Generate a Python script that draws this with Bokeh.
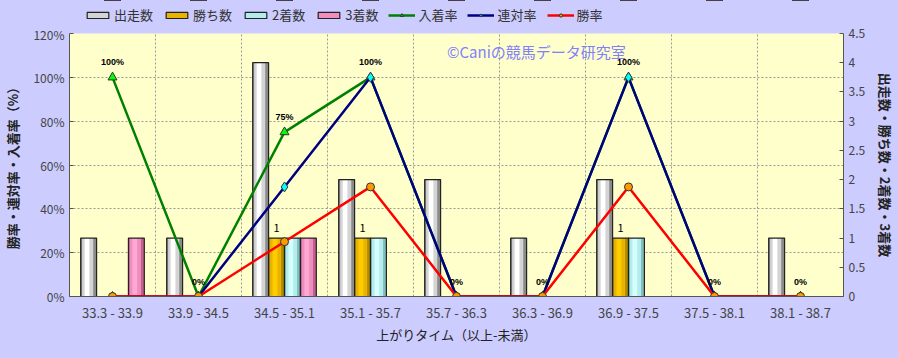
from bokeh.plotting import figure
from bokeh.layouts import column
from bokeh.models import (Range1d, LinearAxis, FixedTicker, Grid, Legend, LegendItem,
                          Label, ColumnDataSource)
from bokeh.core.properties import value
from bokeh.transform import dodge
from bokeh.embed import file_html
from bokeh.resources import INLINE

categories = ["33.3 - 33.9", "33.9 - 34.5", "34.5 - 35.1", "35.1 - 35.7", "35.7 - 36.3",
              "36.3 - 36.9", "36.9 - 37.5", "37.5 - 38.1", "38.1 - 38.7"]
runs = [1, 1, 4, 2, 2, 1, 2, 0, 1]
wins = [0, 0, 1, 1, 0, 0, 1, 0, 0]
seconds = [0, 0, 1, 1, 0, 0, 1, 0, 0]
thirds = [1, 0, 1, 0, 0, 0, 0, 0, 0]
place_rate = [100, 0, 75, 100, 0, 0, 100, 0, 0]
quinella_rate = [0, 0, 50, 100, 0, 0, 100, 0, 0]
win_rate = [0, 0, 25, 50, 0, 0, 50, 0, 0]

left_ticks = [0, 20, 40, 60, 80, 100, 120]
left_tick_labels = ["0%", "20%", "40%", "60%", "80%", "100%", "120%"]
right_ticks = [0, 0.5, 1, 1.5, 2, 2.5, 3, 3.5, 4, 4.5]
right_tick_labels = ["0", "0.5", "1", "1.5", "2", "2.5", "3", "3.5", "4", "4.5"]

FONT = "Noto Sans CJK JP"
BG = "#CCCCFF"
idx = list(range(len(categories)))
src = ColumnDataSource(dict(
    x=idx, runs=runs, wins=wins, seconds=seconds, thirds=thirds,
    place=place_rate, quin=quinella_rate, win=win_rate,
    place_lbl=[f"{v}%" for v in place_rate],
    win_lbl=[str(w) if w > 0 else "" for w in wins],
))

LEG_H = 25
p = figure(width=898, height=358 - LEG_H, output_backend="svg", toolbar_location=None,
           x_range=Range1d(-0.5, len(categories) - 0.5), y_range=Range1d(0, 120),
           min_border_left=65, min_border_right=54, min_border_top=8, min_border_bottom=62)
p.background_fill_color = "#FFFFCC"
p.border_fill_color = BG
p.outline_line_color = None
p.extra_y_ranges = {"cnt": Range1d(0, 4.5)}
p.xgrid.visible = False
p.ygrid.visible = False

# axes
p.xaxis.ticker = FixedTicker(ticks=idx)
p.xaxis.major_label_overrides = {float(i): c for i, c in zip(idx, categories)}
p.xaxis.axis_label = "上がりタイム（以上-未満）"
p.xaxis.major_tick_out = 0
p.xaxis.major_tick_in = 0
p.xaxis.minor_tick_line_color = None

p.yaxis.ticker = FixedTicker(ticks=left_ticks)
p.yaxis.major_label_overrides = {float(t): s for t, s in zip(left_ticks, left_tick_labels)}
p.yaxis.axis_label = "勝率・連対率・入着率（%）"
p.yaxis.axis_label_text_font_style = "bold"
p.yaxis.major_tick_in = 4
p.yaxis.major_tick_out = 0
p.yaxis.minor_tick_line_color = None

ra = LinearAxis(y_range_name="cnt", ticker=FixedTicker(ticks=right_ticks),
                axis_label="出走数・勝ち数・2着数・3着数")
ra.major_label_overrides = {float(t): s for t, s in zip(right_ticks, right_tick_labels)}
ra.major_tick_in = 4
ra.major_tick_out = 0
ra.minor_tick_line_color = None
p.add_layout(ra, "right")

for ax in [p.xaxis[0], p.yaxis[0], ra]:
    ax.axis_line_color = "#555555"
    ax.major_tick_line_color = "#555555"
    ax.major_label_text_font = FONT
    ax.major_label_text_font_size = "12px"
    ax.major_label_text_color = "#444444"
    ax.axis_label_text_font = FONT
    ax.axis_label_text_font_size = "13px"
    ax.axis_label_text_color = "#222222"
    ax.axis_label_standoff = 8
p.xaxis[0].axis_label_standoff = 0
p.xaxis[0].major_label_standoff = 6
p.xaxis[0].major_label_text_font_size = "13px"
p.xaxis[0].axis_label_text_font_style = "normal"
ra.axis_label_text_font_style = "bold"

p.add_layout(Grid(dimension=1, ticker=FixedTicker(ticks=left_ticks), grid_line_color="#999999",
                  grid_line_dash="2 2", grid_line_width=1))
p.add_layout(Grid(dimension=0, ticker=FixedTicker(ticks=[i + 0.5 for i in idx[:-1]]),
                  grid_line_color="#999999", grid_line_dash="2 2", grid_line_width=1))

# legend strip figure (its data ranges show nothing; it only hosts the legend)
leg = figure(width=898, height=LEG_H, output_backend="svg", toolbar_location=None,
             x_range=Range1d(-0.5, len(categories) - 0.5), y_range=Range1d(-500, -499),
             x_axis_type=None, y_axis_type=None, min_border=0)
leg.background_fill_color = BG
leg.border_fill_color = BG
leg.border_fill_alpha = 1
leg.outline_line_color = None

# bars
w = 0.185
bar_specs = [
    ("runs", "出走数", -1.5 * w, ["#8A8A8A", "#D4D4D4", "#FFFFFF"]),
    ("wins", "勝ち数", -0.5 * w, ["#B08A00", "#E8B400", "#FFCC00"]),
    ("seconds", "2着数", 0.5 * w, ["#7FBFBF", "#B4ECEC", "#D4FFFF"]),
    ("thirds", "3着数", 1.5 * w, ["#C0608F", "#F08CBE", "#FFA8D4"]),
]
legend_items = []
for col, label, off, cols in bar_specs:
    p.vbar(x=dodge("x", off), top=col, width=w, bottom=0, source=src, y_range_name="cnt",
           fill_color=cols[0], line_color=None)
    p.vbar(x=dodge("x", off - w * 0.06), top=col, width=w * 0.7,
           bottom=0, source=src, y_range_name="cnt", fill_color=cols[1], line_color=None)
    p.vbar(x=dodge("x", off - w * 0.1), top=col, width=w * 0.3,
           bottom=0, source=src, y_range_name="cnt", fill_color=cols[2], line_color=None)
    p.vbar(x=dodge("x", off), top=col, width=w, bottom=0, source=src, y_range_name="cnt",
           fill_alpha=0, line_color="#222222", line_width=1.2)
    lr = leg.vbar(x="x", top=col, width=w, bottom=0, source=src, fill_color=cols[1],
                  line_color="#222222", line_width=1.2)
    legend_items.append(LegendItem(label=label, renderers=[lr]))

# lines
line_specs = [
    ("place", "入着率", "#008000", "triangle", "#00FF00", 9),
    ("quin", "連対率", "#000080", "diamond", "#00FFFF", 10),
    ("win", "勝率", "#FF0000", "circle", "#FF9900", 8),
]
for col, label, lc, mk, fc, sz in line_specs:
    p.line("x", col, source=src, line_color=lc, line_width=2.5)
    p.scatter("x", col, source=src, marker=mk, size=sz, fill_color=fc,
              line_color="#333333", line_width=1)
    l1 = leg.line("x", col, source=src, line_color=lc, line_width=2.5)
    l2 = leg.scatter("x", col, source=src, marker=mk, size=sz - 1, fill_color=fc,
                     line_color="#333333", line_width=1)
    legend_items.append(LegendItem(label=label, renderers=[l1, l2]))

# data labels
p.text("x", "place", text="place_lbl", source=src, y_offset=-10,
       text_font=value("Liberation Sans"), text_font_style="bold", text_font_size="9px",
       text_align="center", text_baseline="bottom", text_color="#000000")
p.text(x=dodge("x", -0.5 * w), y="wins", text="win_lbl", source=src,
       y_range_name="cnt", y_offset=-6, text_font=value(FONT), text_font_size="11px",
       text_align="center", text_baseline="bottom", text_color="#000000")

p.add_layout(Label(x=3.89, y=112, text="©Caniの競馬データ研究室", text_font=FONT,
                   text_font_size="15px", text_color="#8080FF", text_baseline="middle"))

legend = Legend(items=legend_items, orientation="horizontal", location=(15, 1),
                background_fill_alpha=0, border_line_color=None,
                label_text_font=FONT, label_text_font_size="13px", label_text_color="#333333",
                glyph_width=27, glyph_height=8, label_standoff=3, spacing=10,
                padding=2, margin=0)
leg.add_layout(legend, "center")

layout = column(leg, p, spacing=0, styles={"background-color": BG})
open("out.html", "w").write(file_html(layout, INLINE))
